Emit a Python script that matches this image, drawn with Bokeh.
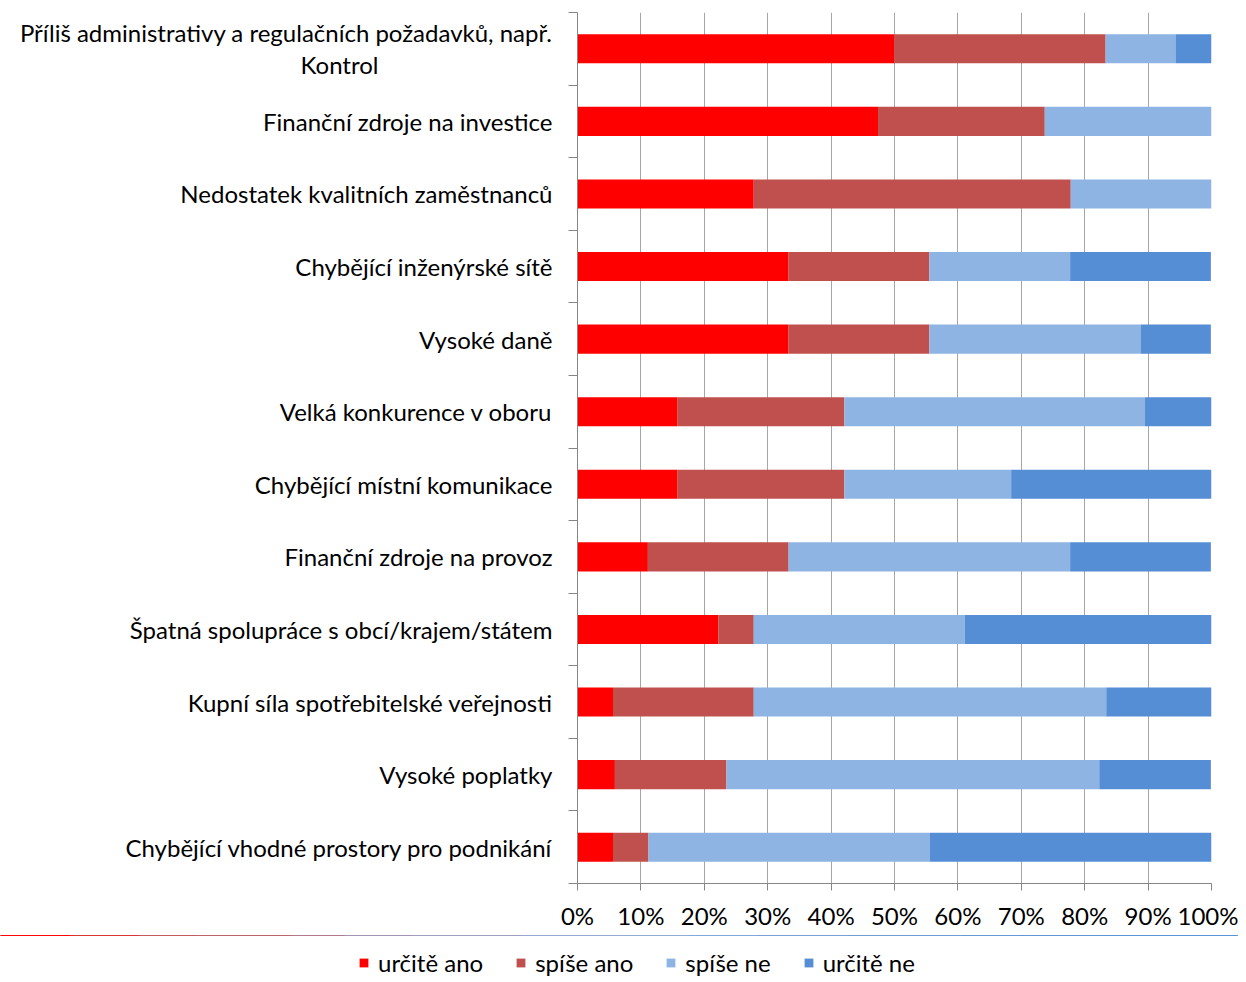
from bokeh.plotting import figure
from bokeh.models import (Range1d, FixedTicker, PrintfTickFormatter, Legend, LegendItem)
from bokeh.embed import file_html
from bokeh.resources import INLINE

EMSP = "\u2003"
categories = [
    "Příliš administrativy a regulačních požadavků, např.\nKontrol" + EMSP * 9 + "\u2002",
    "Finanční zdroje na investice",
    "Nedostatek kvalitních zaměstnanců",
    "Chybějící inženýrské sítě",
    "Vysoké daně",
    "Velká konkurence v oboru",
    "Chybějící místní komunikace",
    "Finanční zdroje na provoz",
    "Špatná spolupráce s obcí/krajem/státem",
    "Kupní síla spotřebitelské veřejnosti",
    "Vysoké poplatky",
    "Chybějící vhodné prostory pro podnikání",
]
series_names = ["určitě ano", "spíše ano", "spíše ne", "určitě ne"]
urcite_ano = [50.0, 47.4, 27.8, 33.3, 33.3, 15.8, 15.8, 11.1, 22.2, 5.6, 5.9, 5.6]
spise_ano = [33.3, 26.3, 50.0, 22.2, 22.2, 26.3, 26.3, 22.2, 5.6, 22.2, 17.6, 5.6]
spise_ne = [11.1, 26.3, 22.2, 22.2, 33.3, 47.4, 26.3, 44.4, 33.3, 55.6, 58.8, 44.4]
urcite_ne = [5.6, 0.0, 0.0, 22.2, 11.1, 10.5, 31.6, 22.2, 38.9, 16.7, 17.6, 44.4]
x_ticks = [0, 10, 20, 30, 40, 50, 60, 70, 80, 90, 100]
colors = ["#FF0000", "#C0504D", "#8EB4E3", "#558ED5"]

FONT = "Lato"
FS = "24px"
n = len(categories)
ypos = [i + 0.5 for i in range(n)]
keys = ["s0", "s1", "s2", "s3"]

def make_data():
    return {"y": ypos, "s0": urcite_ano, "s1": spise_ano, "s2": spise_ne, "s3": urcite_ne}

p = figure(output_backend="svg", toolbar_location=None,
           width=1238, height=935,
           x_range=Range1d(0, 100), y_range=Range1d(n, 0),
           min_border_left=577, min_border_right=27, min_border_top=12, min_border_bottom=52)
p.outline_line_color = None
p.background_fill_color = "white"

p.hbar_stack(keys, y="y", height=0.4, color=colors, line_color=None, source=make_data())

# x axis
xa = p.xaxis[0]
xa.ticker = FixedTicker(ticks=x_ticks)
xa.formatter = PrintfTickFormatter(format="%d%%")
xa.axis_line_color = "#868686"
xa.major_tick_line_color = "#868686"
xa.major_tick_out = 7
xa.major_tick_in = 0
xa.minor_tick_line_color = None
xa.major_label_standoff = 10
xa.major_label_text_font = FONT
xa.major_label_text_font_size = FS
xa.major_label_text_color = "#000000"

# y axis
ya = p.yaxis[0]
ya.ticker = FixedTicker(ticks=ypos, minor_ticks=list(range(n + 1)))
ya.major_label_overrides = {y: c for y, c in zip(ypos, categories)}
ya.axis_line_color = "#868686"
ya.major_tick_line_color = None
ya.major_tick_out = 0
ya.major_tick_in = 0
ya.minor_tick_line_color = "#868686"
ya.minor_tick_out = 9
ya.minor_tick_in = 0
ya.major_label_standoff = 16
ya.major_label_text_font = FONT
ya.major_label_text_font_size = FS
ya.major_label_text_color = "#000000"
ya.major_label_text_line_height = 1.1

p.xgrid.ticker = FixedTicker(ticks=x_ticks)
p.xgrid.grid_line_color = "#A6A6A6"
p.ygrid.grid_line_color = None

# legend strip below the chart (same series; its bars lie outside this strip's view)
leg_fig = figure(output_backend="svg", toolbar_location=None, width=1238, height=47,
                 x_range=Range1d(0, 100), y_range=Range1d(-10, -9),
                 x_axis_location=None, y_axis_location=None, min_border=0)
leg_fig.outline_line_color = None
leg_fig.xgrid.grid_line_color = None
leg_fig.ygrid.grid_line_color = None
leg_renderers = leg_fig.hbar_stack(keys, y="y", height=0.4, color=colors, line_color=None,
                                   source=make_data())

legend = Legend(items=[LegendItem(label=nm, renderers=[r]) for nm, r in zip(series_names, leg_renderers)],
                orientation="horizontal", location=(358, 5),
                glyph_width=11, glyph_height=11, label_standoff=9, spacing=32,
                padding=0, margin=0, border_line_color=None, background_fill_alpha=0,
                label_text_font=FONT, label_text_font_size=FS, label_text_color="#000000")
leg_fig.add_layout(legend, "center")

open("out.html", "w").write(file_html([p, leg_fig], INLINE))
